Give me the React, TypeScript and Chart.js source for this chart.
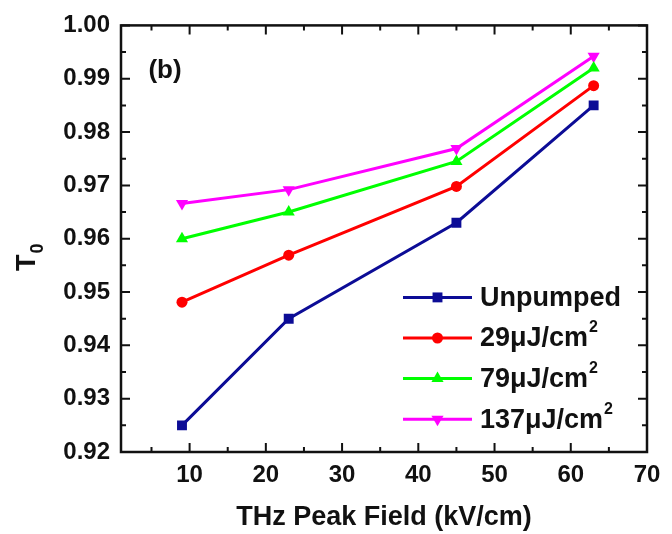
import React, { useEffect, useRef } from 'react';
import { Chart, registerables } from 'chart.js';

Chart.register(...registerables);

// ---- data ----
const fieldValues = [9, 23, 45, 63];
const unpumped = [0.925, 0.945, 0.963, 0.985];
const pump29 = [0.9481, 0.9569, 0.9698, 0.9887];
const pump79 = [0.96, 0.965, 0.9745, 0.992];
const pump137 = [0.9666, 0.9692, 0.9769, 0.9942];

const seriesLabels = ['Unpumped', '29μJ/cm²', '79μJ/cm²', '137μJ/cm²'];
const seriesColors = ['#0c0c96', '#ff0000', '#00ff00', '#ff00ff'];
const seriesStyles = ['rect', 'circle', 'triangle', 'triangle'];
const seriesRotation = [0, 0, 0, 180];
const seriesRadius = [7, 5.5, 7, 7];

const xMajorTicks = [10, 20, 30, 40, 50, 60, 70];
const xMinorTicks = [5, 15, 25, 35, 45, 55, 65];
const yMajorTicks = [0.92, 0.93, 0.94, 0.95, 0.96, 0.97, 0.98, 0.99, 1.0];
const yMinorTicks = [0.925, 0.935, 0.945, 0.955, 0.965, 0.975, 0.985, 0.995];

const xTitle = 'THz Peak Field (kV/cm)';
const yTitleMain = 'T';
const yTitleSub = '0';
const panelLabel = '(b)';

const FONT = '"Liberation Sans", Arial, Helvetica, sans-serif';

const seriesValues = [unpumped, pump29, pump79, pump137];

function drawMarker(ctx: CanvasRenderingContext2D, style: string, x: number, y: number, r: number, rot: number) {
  ctx.save();
  ctx.translate(x, y);
  ctx.rotate((rot * Math.PI) / 180);
  ctx.beginPath();
  if (style === 'rect') {
    const s = r * Math.SQRT1_2;
    ctx.rect(-s, -s, 2 * s, 2 * s);
  } else if (style === 'circle') {
    ctx.arc(0, 0, r, 0, Math.PI * 2);
  } else {
    ctx.moveTo(0, -r);
    ctx.lineTo(r * Math.sin((2 * Math.PI) / 3), r * 0.5);
    ctx.lineTo(-r * Math.sin((2 * Math.PI) / 3), r * 0.5);
    ctx.closePath();
  }
  ctx.fill();
  ctx.restore();
}

const framePlugin = {
  id: 'framePlugin',
  afterDatasetsDraw(chart: any) {
    const { ctx, chartArea: a, scales } = chart;
    const xs = scales.x;
    const ys = scales.y;
    ctx.save();
    // frame
    ctx.strokeStyle = '#111';
    ctx.lineWidth = 2.5;
    ctx.strokeRect(a.left, a.top, a.right - a.left, a.bottom - a.top);
    // ticks (inward)
    ctx.lineWidth = 2;
    const drawX = (v: number, len: number) => {
      const p = xs.getPixelForValue(v);
      ctx.beginPath();
      ctx.moveTo(p, a.bottom);
      ctx.lineTo(p, a.bottom - len);
      ctx.moveTo(p, a.top);
      ctx.lineTo(p, a.top + len);
      ctx.stroke();
    };
    const drawY = (v: number, len: number) => {
      const p = ys.getPixelForValue(v);
      ctx.beginPath();
      ctx.moveTo(a.left, p);
      ctx.lineTo(a.left + len, p);
      ctx.moveTo(a.right, p);
      ctx.lineTo(a.right - len, p);
      ctx.stroke();
    };
    xMajorTicks.forEach((v) => drawX(v, 9));
    xMinorTicks.forEach((v) => drawX(v, 5));
    yMajorTicks.forEach((v) => drawY(v, 9));
    yMinorTicks.forEach((v) => drawY(v, 5));

    // panel label
    ctx.fillStyle = '#111';
    ctx.font = `bold 26px ${FONT}`;
    ctx.textAlign = 'center';
    ctx.textBaseline = 'middle';
    ctx.fillText(panelLabel, a.left + 44, a.top + 45);

    // x title
    ctx.font = `bold 27px ${FONT}`;
    ctx.textAlign = 'center';
    ctx.textBaseline = 'middle';
    ctx.fillText(xTitle, (a.left + a.right) / 2, 518);

    // y title (rotated)
    ctx.save();
    ctx.translate(35, 271);
    ctx.rotate(-Math.PI / 2);
    ctx.textAlign = 'left';
    ctx.textBaseline = 'alphabetic';
    ctx.font = `bold 27px ${FONT}`;
    ctx.fillText(yTitleMain, 0, 0);
    const tw = ctx.measureText(yTitleMain).width;
    ctx.font = `bold 18px ${FONT}`;
    ctx.fillText(yTitleSub, tw + 1, 8);
    ctx.restore();

    // legend
    const lx0 = a.left + 282;
    const lx1 = a.left + 351;
    const ly0 = a.top + 272;
    const step = 40.6;
    chart.data.datasets.forEach((ds: any, i: number) => {
      const yy = ly0 + i * step;
      ctx.strokeStyle = ds.borderColor;
      ctx.lineWidth = 3;
      ctx.beginPath();
      ctx.moveTo(lx0, yy);
      ctx.lineTo(lx1, yy);
      ctx.stroke();
      ctx.fillStyle = ds.borderColor;
      drawMarker(ctx, ds.pointStyle, (lx0 + lx1) / 2, yy, ds.pointRadius, ds.pointRotation);
      ctx.fillStyle = '#111';
      ctx.textAlign = 'left';
      ctx.textBaseline = 'middle';
      ctx.font = `bold 27px ${FONT}`;
      const label: string = ds.label;
      const tx = lx1 + 8;
      if (label.endsWith('²')) {
        const base = label.slice(0, -1);
        ctx.fillText(base, tx, yy + 1);
        const bw = ctx.measureText(base).width;
        ctx.font = `bold 16px ${FONT}`;
        ctx.fillText('2', tx + bw + 1, yy - 10);
      } else {
        ctx.fillText(label, tx, yy + 1);
      }
    });
    ctx.restore();
  },
};

export default function App() {
  const canvasRef = useRef<HTMLCanvasElement | null>(null);

  useEffect(() => {
    document.body.style.margin = '0';
    const canvas = canvasRef.current;
    if (!canvas) return;
    const datasets = seriesValues.map((vals, i) => ({
      label: seriesLabels[i],
      data: fieldValues.map((x, j) => ({ x, y: vals[j] })),
      borderColor: seriesColors[i],
      backgroundColor: seriesColors[i],
      pointBackgroundColor: seriesColors[i],
      pointBorderColor: seriesColors[i],
      pointStyle: seriesStyles[i],
      pointRotation: seriesRotation[i],
      pointRadius: seriesRadius[i],
      pointBorderWidth: 0,
      borderWidth: 3,
      tension: 0,
      fill: false,
    }));
    const chart = new Chart(canvas, {
      type: 'line',
      data: { datasets },
      options: {
        animation: false,
        responsive: false,
        devicePixelRatio: 1,
        layout: { padding: { top: 20, right: 25, left: 0, bottom: 0 } },
        plugins: { legend: { display: false }, tooltip: { enabled: false } },
        scales: {
          x: {
            type: 'linear',
            min: 1,
            max: 70,
            grid: { display: false, drawTicks: false },
            border: { display: false },
            afterFit: (s: any) => {
              s.height = 82;
            },
            afterBuildTicks: (s: any) => {
              s.ticks = xMajorTicks.map((v) => ({ value: v }));
            },
            ticks: {
              padding: 9,
              color: '#111',
              font: { family: FONT, size: 24, weight: 'bold' },
              callback: (v: any) => String(v),
            },
          },
          y: {
            type: 'linear',
            min: 0.92,
            max: 1.0,
            grid: { display: false, drawTicks: false },
            border: { display: false },
            afterFit: (s: any) => {
              s.width = 121;
            },
            afterBuildTicks: (s: any) => {
              s.ticks = yMajorTicks.map((v) => ({ value: v }));
            },
            ticks: {
              padding: 11,
              color: '#111',
              font: { family: FONT, size: 24, weight: 'bold' },
              callback: (v: any) => Number(v).toFixed(2),
            },
          },
        },
      },
      plugins: [framePlugin],
    } as any);
    return () => chart.destroy();
  }, []);

  return (
    <div style={{ width: 672, height: 534, background: '#fff' }}>
      <canvas ref={canvasRef} width={672} height={534} style={{ display: 'block' }} />
    </div>
  );
}
